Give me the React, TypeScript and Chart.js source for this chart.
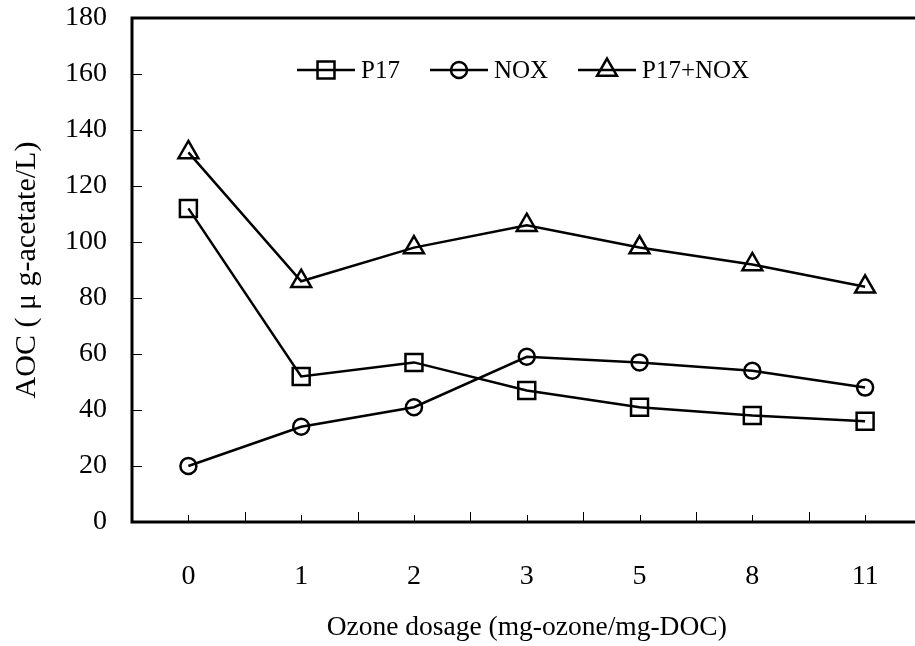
import React, { useEffect, useRef } from "react";
import { Chart, registerables } from "chart.js";

Chart.register(...registerables);

const categories = ["0", "1", "2", "3", "5", "8", "11"];
const p17 = [112, 52, 57, 47, 41, 38, 36];
const nox = [20, 34, 41, 59, 57, 54, 48];
const p17nox = [132, 86, 98, 106, 98, 92, 84];
const yTicks = [0, 20, 40, 60, 80, 100, 120, 140, 160, 180];
const seriesLabels = ["P17", "NOX", "P17+NOX"];
const xTitle = "Ozone dosage (mg-ozone/mg-DOC)";
const yTitle = "AOC ( \u03bc g-acetate/L)";

const FONT = "'Liberation Serif', 'Times New Roman', serif";

function marker(ctx: CanvasRenderingContext2D, style: string, r: number, x: number, y: number) {
  ctx.beginPath();
  if (style === "rect") {
    const s = Math.SQRT1_2 * r;
    ctx.rect(x - s, y - s, 2 * s, 2 * s);
  } else if (style === "circle") {
    ctx.arc(x, y, r, 0, Math.PI * 2);
  } else {
    for (let k = 0; k < 3; k++) {
      const a = (k * 2 * Math.PI) / 3;
      const px = x + Math.sin(a) * r;
      const py = y - Math.cos(a) * r;
      if (k === 0) ctx.moveTo(px, py);
      else ctx.lineTo(px, py);
    }
    ctx.closePath();
  }
  ctx.stroke();
}

const framePlugin = {
  id: "frame",
  afterDraw(chart: any) {
    const { ctx, chartArea } = chart;
    const xs = chart.scales.x;
    const ys = chart.scales.y;
    const { left, top, right, bottom } = chartArea;
    ctx.save();
    ctx.strokeStyle = "#000";
    ctx.lineWidth = 3;
    ctx.beginPath();
    ctx.moveTo(right + 20, top);
    ctx.lineTo(left, top);
    ctx.lineTo(left, bottom);
    ctx.lineTo(right + 20, bottom);
    ctx.stroke();
    ctx.lineWidth = 1;
    ctx.beginPath();
    yTicks.forEach((v) => {
      if (v === 0 || v === 180) return;
      const y = Math.round(ys.getPixelForValue(v)) + 0.5;
      ctx.moveTo(left, y);
      ctx.lineTo(left + 10, y);
    });
    for (let i = 0; i < categories.length; i++) {
      const x = Math.round(xs.getPixelForValue(i)) + 0.5;
      ctx.moveTo(x, bottom);
      ctx.lineTo(x, bottom - 7);
      if (i < categories.length - 1) {
        const xb = Math.round((xs.getPixelForValue(i) + xs.getPixelForValue(i + 1)) / 2) + 0.5;
        ctx.moveTo(xb, bottom);
        ctx.lineTo(xb, bottom - 10);
      }
    }
    ctx.stroke();

    const legendY = top + 52;
    const starts = [297, 430, 578];
    ctx.font = "25px " + FONT;
    ctx.textBaseline = "middle";
    ctx.fillStyle = "#000";
    chart.data.datasets.forEach((ds: any, i: number) => {
      const x0 = starts[i];
      const x1 = x0 + 58;
      ctx.strokeStyle = "#000";
      ctx.lineWidth = 2.5;
      ctx.beginPath();
      ctx.moveTo(x0, legendY);
      ctx.lineTo(x1, legendY);
      ctx.stroke();
      marker(ctx, ds.pointStyle, ds.pointRadius, (x0 + x1) / 2, legendY);
      ctx.fillText(ds.label, x1 + 6, legendY + 1);
    });
    ctx.restore();
  },
};

export default function App() {
  const ref = useRef<HTMLCanvasElement | null>(null);
  useEffect(() => {
    if (!ref.current) return;
    const mk = (label: string, data: number[], style: string, r: number) => ({
      label,
      data,
      borderColor: "#000",
      backgroundColor: "rgba(0,0,0,0)",
      borderWidth: 2.5,
      pointStyle: style,
      pointRadius: r,
      pointBorderWidth: 2.5,
      pointBackgroundColor: "rgba(0,0,0,0)",
      pointBorderColor: "#000",
      tension: 0,
    });
    const chart = new Chart(ref.current, {
      type: "line",
      data: {
        labels: categories,
        datasets: [
          mk(seriesLabels[0], p17, "rect", 12),
          mk(seriesLabels[1], nox, "circle", 8),
          mk(seriesLabels[2], p17nox, "triangle", 11.5),
        ],
      },
      options: {
        animation: false,
        responsive: false,
        devicePixelRatio: 1,
        layout: { padding: { top: 18, right: 8, left: 0, bottom: 0 } },
        plugins: { legend: { display: false }, tooltip: { enabled: false } },
        scales: {
          x: {
            type: "category",
            offset: true,
            grid: { display: false, drawTicks: false },
            border: { display: false },
            ticks: { color: "#000", font: { family: FONT, size: 28 }, padding: 38, maxRotation: 0 },
            title: {
              display: true,
              text: xTitle,
              color: "#000",
              font: { family: FONT, size: 27.5 },
              padding: { top: 0, bottom: 2 },
            },
            afterFit: (s: any) => {
              s.height = 124;
              s.paddingLeft = 0;
              s.paddingRight = 0;
            },
          },
          y: {
            min: 0,
            max: 180,
            grid: { display: false, drawTicks: false },
            border: { display: false },
            ticks: { color: "#000", stepSize: 20, font: { family: FONT, size: 28 }, padding: 25 },
            title: {
              display: true,
              text: yTitle,
              color: "#000",
              font: { family: FONT, size: 30 },
              padding: { top: 9, bottom: 0 },
            },
            afterFit: (s: any) => {
              s.width = 132;
              s.paddingTop = 0;
              s.paddingBottom = 0;
            },
          },
        },
      },
      plugins: [framePlugin],
    } as any);
    return () => chart.destroy();
  }, []);
  return (
    <div style={{ position: "fixed", left: 0, top: 0, width: 915, height: 646, overflow: "hidden", background: "#fff" }}>
      <canvas ref={ref} width={936} height={646} style={{ width: 936, height: 646, display: "block" }} />
    </div>
  );
}
